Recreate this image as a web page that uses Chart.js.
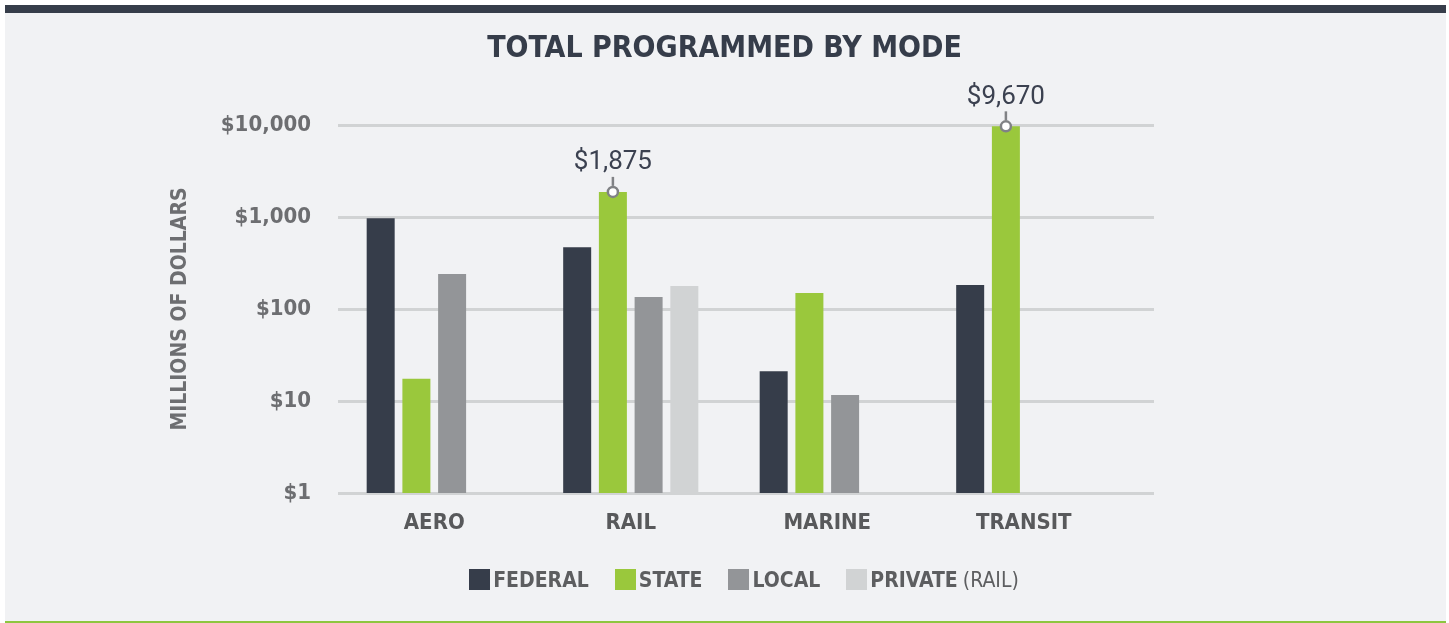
<!DOCTYPE html>
<html>
<head>
<meta charset="utf-8">
<script src="https://cdn.jsdelivr.net/npm/chart.js@4.4.0/dist/chart.umd.min.js"></script>
<style>
    body { margin: 0; background: #ffffff; }
    #panel {
        position: absolute; left: 5px; top: 5px; width: 1441px; height: 618px;
        box-sizing: border-box; background: #f1f2f4;
        border-top: 8px solid #363d4a; border-bottom: 2px solid #8dc63f;
    }
    #chart_mode { position: absolute; left: 0; top: 0; }
    #legend_mode {
        position: absolute; left: 336px; top: 568px; width: 816px; height: 23px;
        display: flex; justify-content: center; align-items: center;
        font-family: 'DejaVu Sans Condensed', sans-serif;
        font-size: 21px; font-weight: bold; color: #5d5e60;
    }
    #legend_mode .item { display: flex; align-items: center; margin: 0 13px; }
    #legend_mode .box { width: 21px; height: 21px; margin-right: 3px; }
    #legend_mode .note { font-weight: normal; margin-left: 5px; }
</style>
</head>
<body>
<div id="panel"></div>
<canvas id="chart_mode" width="1449" height="623"></canvas>
<div id="legend_mode"></div>
<script>
const MODES = ['AERO', 'RAIL', 'MARINE', 'TRANSIT'];
const FEDERAL = [970, 470, 21, 182];
const STATE = [17.5, 1875, 149, 9670];
const LOCAL = [240, 135, 11.6, null];
const PRIVATE = [null, 178, null, null];
const Y_TICKS = [1, 10, 100, 1000, 10000];
const CALLOUT_INDEX = [1, 3]; // STATE values labelled on the chart

const FONT = "'DejaVu Sans Condensed', sans-serif";

var money = function (v) {
    return '$' + v.toLocaleString('en-US');
};

// state bars get a pin + value above them
var calloutPlugin = {
    id: 'callouts',
    afterDatasetsDraw(chart) {
        var ctx = chart.ctx;
        var meta = chart.getDatasetMeta(1);
        ctx.save();
        CALLOUT_INDEX.forEach(function (i) {
            var bar = meta.data[i];
            ctx.strokeStyle = '#808285';
            ctx.lineWidth = 2.5;
            ctx.beginPath();
            ctx.moveTo(bar.x, bar.y - 15);
            ctx.lineTo(bar.x, bar.y - 6);
            ctx.stroke();
            ctx.beginPath();
            ctx.arc(bar.x, bar.y, 5, 0, Math.PI * 2);
            ctx.fillStyle = '#ffffff';
            ctx.fill();
            ctx.stroke();
            ctx.fillStyle = '#3b4150';
            ctx.font = "26px Roboto";
            ctx.textAlign = 'center';
            ctx.textBaseline = 'middle';
            ctx.fillText(money(chart.data.datasets[1].data[i]), bar.x, bar.y - 29);
        });
        ctx.restore();
    }
};

// gridlines run a bit past the last category, title centred on the page
var layoutPlugin = {
    id: 'layoutTweak',
    afterLayout(chart) {
        var x = chart.scales.x;
        x.left = 336;
        x.right = 1122;
        x.width = x.right - x.left;
        x.configure();
        chart.titleBlock.left = 0;
        chart.titleBlock.right = chart.width;
        chart.titleBlock.width = chart.width;
    }
};

var datasets = [
    { label: 'FEDERAL', data: FEDERAL, backgroundColor: '#363d4a' },
    { label: 'STATE', data: STATE, backgroundColor: '#9ac83c' },
    { label: 'LOCAL', data: LOCAL, backgroundColor: '#939598' },
    { label: 'PRIVATE', note: '(RAIL)', data: PRIVATE, backgroundColor: '#d1d3d4' }
];

var modeChart = new Chart(document.getElementById('chart_mode'), {
    type: 'bar',
    data: { labels: MODES, datasets: datasets },
    options: {
        responsive: false,
        animation: false,
        categoryPercentage: 0.727,
        barPercentage: 0.784,
        layout: { padding: { left: 0, right: 295, top: 0, bottom: 75 } },
        plugins: {
            legend: { display: false },
            tooltip: { enabled: false },
            title: {
                display: true,
                text: 'TOTAL PROGRAMMED BY MODE',
                color: '#363d4a',
                font: { family: FONT, size: 30, weight: 'bold', lineHeight: 1.2 },
                padding: { top: 31, bottom: 58 }
            }
        },
        scales: {
            x: {
                grid: { display: false },
                border: { display: false },
                ticks: { color: '#58595b', padding: 9, font: { family: FONT, size: 22, weight: 'bold' } },
                afterFit: function (s) { s.height = 55; }
            },
            y: {
                type: 'logarithmic',
                min: 1,
                max: 10000,
                afterBuildTicks: function (s) {
                    s.ticks = Y_TICKS.map(function (v) { return { value: v }; });
                },
                afterFit: function (s) { s.width = 338; },
                grid: { color: '#d1d3d4', lineWidth: 3, drawTicks: false },
                border: { display: false },
                ticks: {
                    color: '#6d6e71',
                    padding: 27,
                    font: { family: FONT, size: 22, weight: 'bold' },
                    callback: function (v) { return money(v); }
                },
                title: {
                    display: true,
                    text: 'MILLIONS OF DOLLARS',
                    color: '#6d6e71',
                    font: { family: FONT, size: 21, weight: 'bold', lineHeight: 1.2 },
                    padding: { top: 168, bottom: 0 }
                }
            }
        }
    },
    plugins: [calloutPlugin, layoutPlugin]
});

// legend built from the same datasets
var legend = document.getElementById('legend_mode');
datasets.forEach(function (ds) {
    var item = document.createElement('div');
    item.className = 'item';
    var box = document.createElement('span');
    box.className = 'box';
    box.style.background = ds.backgroundColor;
    item.appendChild(box);
    item.appendChild(document.createTextNode(ds.label));
    if (ds.note) {
        var note = document.createElement('span');
        note.className = 'note';
        note.textContent = ds.note;
        item.appendChild(note);
    }
    legend.appendChild(item);
});
</script>
</body>
</html>
